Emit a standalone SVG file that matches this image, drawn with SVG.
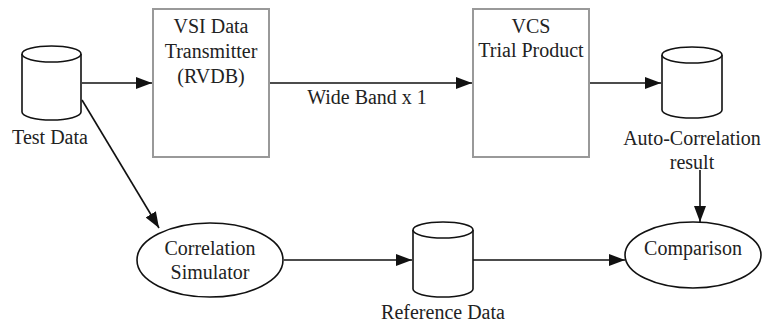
<svg xmlns="http://www.w3.org/2000/svg" width="763" height="324" viewBox="0 0 763 324">
<style>
text{font-family:"Liberation Serif","Times New Roman",serif;font-size:20px;fill:#222;text-anchor:middle}
.box{fill:#fff;stroke:#999;stroke-width:2}
.cyl{fill:#fff;stroke:#111;stroke-width:1.6}
.ell{fill:#fff;stroke:#111;stroke-width:1.6}
.edge{fill:none;stroke:#111;stroke-width:1.6;marker-end:url(#ah)}
</style>
<defs>
<marker id="ah" markerWidth="16" markerHeight="12" refX="16" refY="6" orient="auto" markerUnits="userSpaceOnUse">
<path d="M0,0 L16,6 L0,12 Z" fill="#111"/>
</marker>
</defs>
<rect width="763" height="324" fill="#fff"/>
<g id="edges">
<line class="edge" x1="82" y1="83" x2="152" y2="83"/>
<line class="edge" x1="269" y1="83" x2="472" y2="83"/>
<line class="edge" x1="589" y1="83" x2="661" y2="83"/>
<line class="edge" x1="82" y1="100" x2="159" y2="228"/>
<line class="edge" x1="284" y1="260" x2="412" y2="260"/>
<line class="edge" x1="473" y1="260" x2="625" y2="260"/>
<line class="edge" x1="700" y1="170" x2="700" y2="222"/>
<text x="367" y="104">Wide Band x 1</text>
</g>
<g id="testdata">
<path class="cyl" d="M22,54 A29.5,8 0 0 1 81,54 L81,112 A29.5,8 0 0 1 22,112 Z"/>
<path class="cyl" d="M22,54 A29.5,8 0 0 0 81,54"/>
<text x="50" y="144">Test Data</text>
</g>
<g id="vsi">
<rect class="box" x="153" y="9" width="116" height="148"/>
<text x="211" y="33">VSI Data</text>
<text x="211" y="58">Transmitter</text>
<text x="211" y="83">(RVDB)</text>
</g>
<g id="vcs">
<rect class="box" x="473" y="9" width="116" height="148"/>
<text x="531" y="33">VCS</text>
<text x="531" y="57">Trial Product</text>
</g>
<g id="autocorr">
<path class="cyl" d="M662,55 A30,8 0 0 1 722,55 L722,110 A30,8 0 0 1 662,110 Z"/>
<path class="cyl" d="M662,55 A30,8 0 0 0 722,55"/>
<text x="692" y="145">Auto-Correlation</text>
<text x="692" y="169">result</text>
</g>
<g id="simulator">
<ellipse class="ell" cx="210" cy="260" rx="73" ry="37"/>
<text x="210" y="255">Correlation</text>
<text x="210" y="279">Simulator</text>
</g>
<g id="refdata">
<path class="cyl" d="M413,230 A30,8 0 0 1 473,230 L473,289 A30,8 0 0 1 413,289 Z"/>
<path class="cyl" d="M413,230 A30,8 0 0 0 473,230"/>
<text x="443" y="319">Reference Data</text>
</g>
<g id="comparison">
<ellipse class="ell" cx="693" cy="255" rx="68" ry="33"/>
<text x="693" y="255">Comparison</text>
</g>
</svg>
